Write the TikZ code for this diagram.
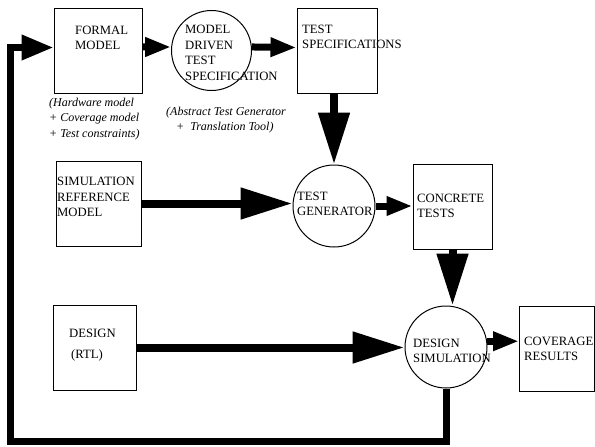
\documentclass[tikz,border=0pt]{standalone}
\usepackage{fontspec}
\setmainfont{Liberation Serif}
\usepackage{tikz}
\usetikzlibrary{arrows.meta}

\tikzset{
  box/.style={draw, line width=1pt, minimum width=#1, minimum height=85pt, inner sep=0pt},
  box/.default=80pt,
  circ/.style={draw, circle, line width=1pt, minimum size=#1, inner sep=0pt},
  circ/.default=82pt,
  lbl/.style={inner sep=0pt, align=left, anchor=west, font=\fontsize{12.7}{15.5}\selectfont},
  note/.style={inner sep=0pt, align=left, anchor=west, font=\fontsize{12}{15.5}\selectfont\itshape},
  small/.style={line width=7pt, -{Triangle[length=26pt,width=18pt]}},
  big/.style={line width=8pt, -{Triangle[length=52pt,width=30pt]}},
  back/.style={line width=7pt, -{Triangle[length=32pt,width=24pt]}}
}

\begin{document}
\begin{tikzpicture}[x=1pt,y=-1pt]
\useasboundingbox (0,0) rectangle (595,447);
% boxes
\node[box=88pt] (FM) at (98,50.5) {};
\node[box] (TS) at (337,51) {};
\node[box=85pt] (SRM) at (98.5,203.5) {};
\node[box=79pt] (CT) at (452.5,206.5) {};
\node[box=83pt] (RTL) at (94.5,347.5) {};
\node[box=75pt] (COV) at (557,348.5) {};
% circles
\node[circ=80pt] (MDTS) at (211.5,50.5) {};
\node[circ] (TG) at (334,206) {};
\node[circ] (DS) at (446,347) {};
% texts
\node[lbl] (FMt) at (75,38) {FORMAL\\MODEL};
\node[lbl] (MDTSt) at (185,53) {MODEL\\DRIVEN\\TEST\\SPECIFICATION};
\node[lbl] (TSt) at (302,37) {TEST\\SPECIFICATIONS};
\node[lbl] (SRMt) at (57,197) {SIMULATION\\REFERENCE\\MODEL};
\node[lbl] (TGt) at (297,204) {TEST\\GENERATOR};
\node[lbl] (CTt) at (417,206) {CONCRETE\\TESTS};
\node[lbl] (RTLt) at (69,345) {DESIGN\\[6pt]\hspace{2pt}(RTL)};
\node[lbl] (DSt) at (413,351) {DESIGN\\SIMULATION};
\node[lbl] (COVt) at (524,349) {COVERAGE\\RESULTS};
% notes
\node[note] (FMn) at (49,119) {(Hardware model\\+ Coverage model\\+ Test constraints)};
\node[note] (MDTSn) at (166,120) {(Abstract Test Generator\\\hspace{10pt}+\hspace{6pt}Translation Tool)};

% flow
\draw[small] ([yshift=3.5pt]FM.east) -- (MDTS.175);
\draw[small] (MDTS.5) -- ([yshift=3.5pt]TS.west);
\draw[big] ([xshift=-3pt]TS.south) -- (TG.north);
\draw[big] (SRM.east) -- (SRM.east -| TG.west);
\draw[small] (TG.east) -- (TG.east -| CT.west);
\draw[big] (CT.south) -- (CT.south |- DS.north);
\draw[big] (RTL.east) -- (RTL.east -| DS.west);
\draw[small] (DS.8) -- (DS.8 -| COV.west);
% feedback
\coordinate (corner) at (10,441);
\draw[back] (DS.south) |- (corner) |- ([yshift=3pt]FM.west);
\end{tikzpicture}
\end{document}
